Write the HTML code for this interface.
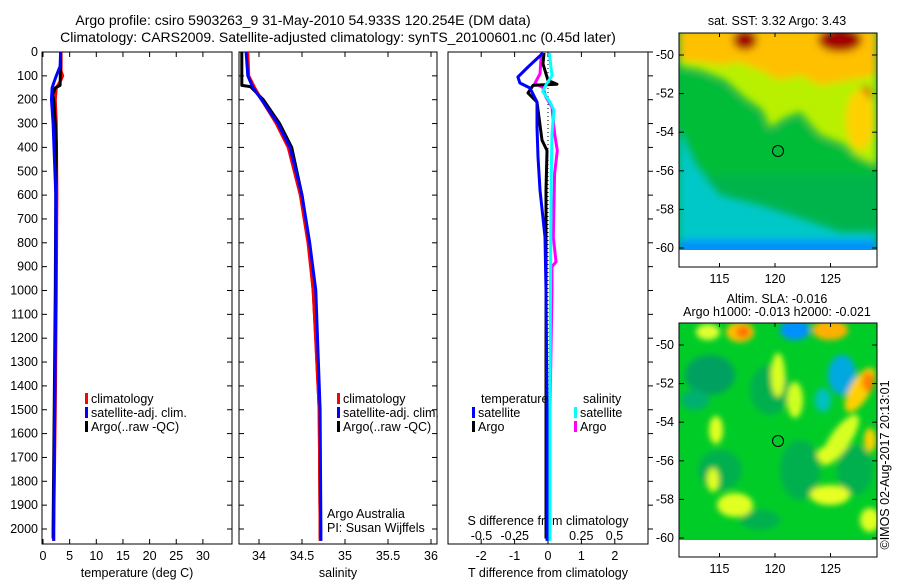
<!DOCTYPE html>
<html><head><meta charset="utf-8"><style>
html,body{margin:0;padding:0;background:#fff;}
svg{display:block;font-family:"Liberation Sans",sans-serif;font-size:12.5px;}
</style></head><body>
<svg id="fig" width="900" height="580" viewBox="0 0 900 580" xmlns="http://www.w3.org/2000/svg">
<defs>
<filter id="blur4" x="-20%" y="-20%" width="140%" height="140%"><feGaussianBlur stdDeviation="4"/></filter>
<filter id="blur3" x="-20%" y="-20%" width="140%" height="140%"><feGaussianBlur stdDeviation="3"/></filter>
<clipPath id="clipTop"><rect x="679" y="33" width="198" height="217"/></clipPath>
<clipPath id="clipBot"><rect x="679" y="323" width="198" height="217"/></clipPath>
</defs>
<text x="303" y="25" text-anchor="middle" font-size="14">Argo profile: csiro 5903263_9 31-May-2010 54.933S 120.254E (DM data)</text>
<text x="338" y="42" text-anchor="middle" font-size="14">Climatology: CARS2009. Satellite-adjusted climatology: synTS_20100601.nc (0.45d later)</text>

<!-- top map -->
<g>
<g clip-path="url(#clipTop)">
<rect x="679" y="33" width="198" height="217" fill="#00b44c"/>
<g filter="url(#blur4)">
<polygon points="679,55 877,55 877,165 860,160 845,145 820,135 800,112 785,118 770,128 762,110 745,98 725,80 700,70 679,66" fill="#b8f000"/>
<polygon points="679,70 700,75 725,88 745,105 760,118 770,135 785,125 800,118 820,140 845,150 877,165 877,175 679,175" fill="#00c030" opacity="0.7"/>
<polygon points="679,28 877,28 877,75 850,80 820,85 800,75 780,80 760,70 740,62 720,65 700,62 679,60" fill="#ffc000"/>
<ellipse cx="745" cy="40" rx="12" ry="10" fill="#a00000"/>
<ellipse cx="840" cy="40" rx="22" ry="12" fill="#a00000"/>
<ellipse cx="866" cy="95" rx="6" ry="9" fill="#d04000"/>
<ellipse cx="860" cy="120" rx="14" ry="30" fill="#ffd000"/>
<polygon points="679,130 695,165 720,195 760,205 800,218 840,232 877,232 877,255 679,255" fill="#00c8c8"/>
<rect x="679" y="240" width="198" height="15" fill="#0090ff"/>
</g>
</g>
<rect x="679" y="250" width="198" height="17" fill="#fff"/>
<rect x="679" y="33" width="198" height="234" fill="none" stroke="#000" stroke-width="1"/>
<circle cx="778" cy="151" r="5.5" fill="none" stroke="#000" stroke-width="1"/>
</g>
<text x="777" y="25" text-anchor="middle">sat. SST: 3.32 Argo: 3.43</text>

<!-- bottom map -->
<g>
<g clip-path="url(#clipBot)">
<rect x="679" y="323" width="198" height="217" fill="#00cc28"/>
<g filter="url(#blur3)">
<ellipse cx="710" cy="375" rx="25" ry="20" fill="#00a060"/>
<ellipse cx="770" cy="390" rx="20" ry="25" fill="#00b050"/>
<ellipse cx="720" cy="470" rx="22" ry="20" fill="#00b050"/>
<ellipse cx="800" cy="470" rx="20" ry="30" fill="#00b050"/>
<ellipse cx="855" cy="470" rx="18" ry="25" fill="#00b050"/>
<ellipse cx="760" cy="520" rx="20" ry="10" fill="#00b050"/>
<ellipse cx="708" cy="332" rx="12" ry="8" fill="#e0ff30"/>
<ellipse cx="740" cy="332" rx="14" ry="10" fill="#ffc000"/>
<ellipse cx="743" cy="332" rx="7" ry="6" fill="#ff7000"/>
<ellipse cx="795" cy="330" rx="15" ry="10" fill="#0090ff"/>
<ellipse cx="830" cy="330" rx="18" ry="10" fill="#ffb000"/>
<ellipse cx="778" cy="375" rx="7" ry="22" fill="#d8ff20"/>
<ellipse cx="795" cy="400" rx="8" ry="18" fill="#d0ff20"/>
<ellipse cx="842" cy="375" rx="14" ry="20" fill="#00a8e0"/>
<ellipse cx="823" cy="400" rx="8" ry="12" fill="#00c0c0"/>
<ellipse cx="860" cy="390" rx="10" ry="25" fill="#ffd000" transform="rotate(30 860 390)"/>
<ellipse cx="868" cy="382" rx="6" ry="10" fill="#ff8000"/>
<ellipse cx="840" cy="440" rx="10" ry="30" fill="#d8ff20" transform="rotate(35 840 440)"/>
<ellipse cx="716" cy="430" rx="7" ry="14" fill="#e0ff20"/>
<ellipse cx="713" cy="480" rx="6" ry="12" fill="#e0ff20"/>
<ellipse cx="735" cy="505" rx="18" ry="12" fill="#e0ff20"/>
<ellipse cx="830" cy="495" rx="20" ry="10" fill="#e8ff20"/>
<ellipse cx="825" cy="455" rx="8" ry="8" fill="#e0ff20"/>
<ellipse cx="870" cy="520" rx="10" ry="12" fill="#e0ff20"/>
<ellipse cx="870" cy="440" rx="6" ry="12" fill="#ffd000"/>
<ellipse cx="695" cy="400" rx="14" ry="10" fill="#00b070"/>
</g>
</g>
<rect x="679" y="540" width="198" height="17" fill="#fff"/>
<rect x="679" y="323" width="198" height="234" fill="none" stroke="#000" stroke-width="1"/>
<circle cx="778" cy="441" r="5.5" fill="none" stroke="#000" stroke-width="1"/>
</g>
<text x="777" y="303" text-anchor="middle">Altim. SLA: -0.016</text>
<text x="777" y="316" text-anchor="middle">Argo h1000: -0.013 h2000: -0.021</text>
<text transform="translate(889,465) rotate(-90)" text-anchor="middle">©IMOS 02-Aug-2017 20:13:01</text>
<g id="dyn"></g>
</svg>
<script>
// ---------- data ----------
const depthTicks = [0,100,200,300,400,500,600,700,800,900,1000,1100,1200,1300,1400,1500,1600,1700,1800,1900,2000];
const tempTicks = [0,5,10,15,20,25,30];
const salTicks = [34,34.5,35,35.5,36];
const salTickLabels = ["34","34.5","35","35.5","36"];
const tdiffTicks = [-2,-1,0,1,2];
const sdiffTicks = [-0.5,-0.25,0,0.25,0.5];
const sdiffTickLabels = ["-0.5","-0.25","0","0.25","0.5"];
const lonTicks = [115,120,125];
const latTicks = [-50,-52,-54,-56,-58,-60];

// temperature profiles (depth, value)
const tClimDepth = [0,80,100,120,150,200,300,600,1000,1500,2000,2050];
const tClimVal   = [3.4,3.4,3.7,3.3,2.5,2.3,2.5,2.6,2.5,2.3,2.0,2.0];
const tSatDepth  = [0,60,100,130,150,200,300,600,1000,1500,2000,2050];
const tSatVal    = [3.3,3.2,2.5,2.0,1.7,1.6,1.9,2.4,2.4,2.2,2.0,2.0];
const tArgoDepth = [0,50,140,150,180,200,300,400,600,1000,1500,2000,2040];
const tArgoVal   = [3.3,3.3,3.2,2.3,1.8,2.0,2.3,2.5,2.4,2.3,2.1,1.9,1.9];

// salinity profiles
const sClimDepth = [0,100,150,200,300,400,600,800,1000,1500,2000,2050];
const sClimVal   = [33.87,33.88,33.95,34.03,34.20,34.34,34.48,34.57,34.63,34.70,34.71,34.71];
const sSatDepth  = [0,100,150,200,300,400,600,800,1000,1500,2000,2050];
const sSatVal    = [33.85,33.87,33.93,34.03,34.22,34.36,34.50,34.59,34.66,34.71,34.72,34.72];
const sArgoDepth = [0,140,145,200,300,400,600,800,1000,1200,1500,2000,2040];
const sArgoVal   = [33.80,33.80,33.90,34.05,34.24,34.38,34.50,34.58,34.63,34.66,34.70,34.71,34.71];

// difference profiles
const dTSatDepth = [4,63,105,130,151,210,314,440,579,776,1000,1500,2050];
const dTSatVal   = [-0.15,-0.6,-0.9,-0.84,-0.54,-0.33,-0.33,-0.30,-0.24,-0.09,-0.06,-0.03,-0.03];
const dTArgoDepth = [4,50,119,135,138,140,172,210,370,413,580,776,1000,1500,2040];
const dTArgoVal   = [-0.12,-0.15,0,0.27,-0.2,-0.45,-0.6,-0.33,-0.18,-0.03,-0.06,-0.06,-0.06,-0.06,-0.06];
const dSArgoDepth = [4,91,133,147,189,231,342,413,510,776,880,900,1000,1500,1900,2040];
const dSArgoVal   = [-0.05,-0.06,-0.10,-0.04,-0.015,0.03,0.05,0.07,0.05,0.04,0.06,0.03,0.03,0.015,0.0,0.0];
const dSSatDepth = [4,100,133,165,210,245,342,510,800,1500,2050];
const dSSatVal   = [0.01,0.03,-0.01,-0.04,0.015,0.045,0.03,0.025,0.02,0.015,0.015];

// ---------- axes ----------
const Y0=52, YS=0.2385, TOP=52, BOT=544;
const yD = d => Y0 + d*YS;
const xT = t => 43 + t*5.33;
const xS = s => 259 + (s-34)*86;
const xDT = t => 548 + t*33.4;
const xDS = s => 548 + s*133;
const xLon = l => 775 + (l-120)*11.1;
const yLatTop = la => 55 + (-50-la)*19.3;
const yLatBot = la => 345 + (-50-la)*19.3;

const NS="http://www.w3.org/2000/svg";
const g=document.getElementById('dyn');
function mk(tag, attrs, parent){const e=document.createElementNS(NS,tag);for(const k in attrs)e.setAttribute(k,attrs[k]);(parent||g).appendChild(e);return e;}
function txt(x,y,s,anchor,parent){const e=mk('text',{x:x,y:y,'text-anchor':anchor||'middle'},parent);e.textContent=s;return e;}

const panels=[{x0:42,x1:232,name:'temperature-panel'},{x0:239,x1:437,name:'salinity-panel'},{x0:448,x1:648,name:'difference-panel'}];
panels.forEach((p,i)=>{
  const r=mk('rect',{x:p.x0,y:TOP,width:p.x1-p.x0,height:BOT-TOP,fill:'none',stroke:'#000','stroke-width':1});
  
  
  depthTicks.forEach(d=>{
    const y=yD(d);
    if(i===2){ mk('line',{x1:p.x1,x2:p.x1+5,y1:y,y2:y,stroke:'#000'}); }
    else { mk('line',{x1:p.x0,x2:p.x0+5,y1:y,y2:y,stroke:'#000'}); mk('line',{x1:p.x1,x2:p.x1-5,y1:y,y2:y,stroke:'#000'}); }
  });
});
depthTicks.forEach(d=>{
  const t=txt(38,yD(d)+4,String(d),'end');
  
  
});
tempTicks.forEach(v=>{const x=xT(v);mk('line',{x1:x,x2:x,y1:TOP,y2:TOP+5,stroke:'#000'});mk('line',{x1:x,x2:x,y1:BOT,y2:BOT-5,stroke:'#000'});
  const t=txt(x,560,String(v));});
salTicks.forEach((v,i)=>{const x=xS(v);mk('line',{x1:x,x2:x,y1:TOP,y2:TOP+5,stroke:'#000'});mk('line',{x1:x,x2:x,y1:BOT,y2:BOT-5,stroke:'#000'});
  const t=txt(x,560,salTickLabels[i]);});
tdiffTicks.forEach(v=>{const x=xDT(v);mk('line',{x1:x,x2:x,y1:TOP,y2:TOP+5,stroke:'#000'});mk('line',{x1:x,x2:x,y1:BOT,y2:BOT-5,stroke:'#000'});
  const t=txt(x,560,String(v));});
sdiffTicks.forEach((v,i)=>{const t=txt(xDS(v),540,sdiffTickLabels[i]);});
let at=txt(137,577,'temperature (deg C)');
at=txt(338,577,'salinity');
at=txt(548,577,'T difference from climatology');
at=txt(548,525,'S difference from climatology');
at=txt(327,518,'Argo Australia','start');
at=txt(327,532,'PI: Susan Wijffels','start');

const zl=mk('line',{x1:xDT(0),x2:xDT(0),y1:TOP,y2:BOT,stroke:'#000','stroke-dasharray':'1,3'});



function profile(depths, vals, xf, color, name){
  let pts=[];
  for(let i=0;i<depths.length;i++){pts.push(xf(vals[i]).toFixed(1)+','+yD(depths[i]).toFixed(1));}
  const pl=mk('polyline',{points:pts.join(' '),fill:'none',stroke:color,'stroke-width':3,'stroke-linejoin':'round'});
  
  
}
profile(tClimDepth,tClimVal,xT,'#ff0000','temperature-climatology-line');
profile(tArgoDepth,tArgoVal,xT,'#000000','temperature-argo-line');
profile(tSatDepth,tSatVal,xT,'#0000ff','temperature-satellite-line');
profile(sArgoDepth,sArgoVal,xS,'#000000','salinity-argo-line');
profile(sClimDepth,sClimVal,xS,'#ff0000','salinity-climatology-line');
profile(sSatDepth,sSatVal,xS,'#0000ff','salinity-satellite-line');
profile(dSArgoDepth,dSArgoVal,xDS,'#ff00ff','s-diff-argo-line');
profile(dTArgoDepth,dTArgoVal,xDT,'#000000','t-diff-argo-line');
profile(dSSatDepth,dSSatVal,xDS,'#00ffff','s-diff-satellite-line');
profile(dTSatDepth,dTSatVal,xDT,'#0000ff','t-diff-satellite-line');

function legendEntry(x,y,color,label){
  const r=mk('rect',{x:x,y:y-10,width:3,height:11,fill:color});
  
  
  const t=txt(x+6,y,label,'start');
  
  
}
legendEntry(85,403,'#ff0000','climatology');
legendEntry(85,417,'#0000ff','satellite-adj. clim.');
legendEntry(85,431,'#000000','Argo(..raw -QC)');
legendEntry(337,403,'#ff0000','climatology');
legendEntry(337,417,'#0000ff','satellite-adj. clim.');
legendEntry(337,431,'#000000','Argo(..raw -QC)');
let lt=txt(481,403,'temperature','start');
lt=txt(583,403,'salinity','start');
legendEntry(472,417,'#0000ff','satellite');
legendEntry(472,431,'#000000','Argo');
legendEntry(574,417,'#00ffff','satellite');
legendEntry(574,431,'#ff00ff','Argo');

[[yLatTop,33,267,'sst'],[yLatBot,323,557,'sla']].forEach(([yf,t0,b0,nm])=>{
  latTicks.forEach(la=>{const y=yf(la);mk('line',{x1:679,x2:684,y1:y,y2:y,stroke:'#000'});mk('line',{x1:877,x2:872,y1:y,y2:y,stroke:'#000'});
    const t=txt(674,y+4,String(la),'end');});
  lonTicks.forEach(lo=>{const x=xLon(lo);mk('line',{x1:x,x2:x,y1:t0,y2:t0+4,stroke:'#000'});mk('line',{x1:x,x2:x,y1:b0,y2:b0-4,stroke:'#000'});
    const t=txt(x,b0+16,String(lo));});
});
</script>
</body></html>
